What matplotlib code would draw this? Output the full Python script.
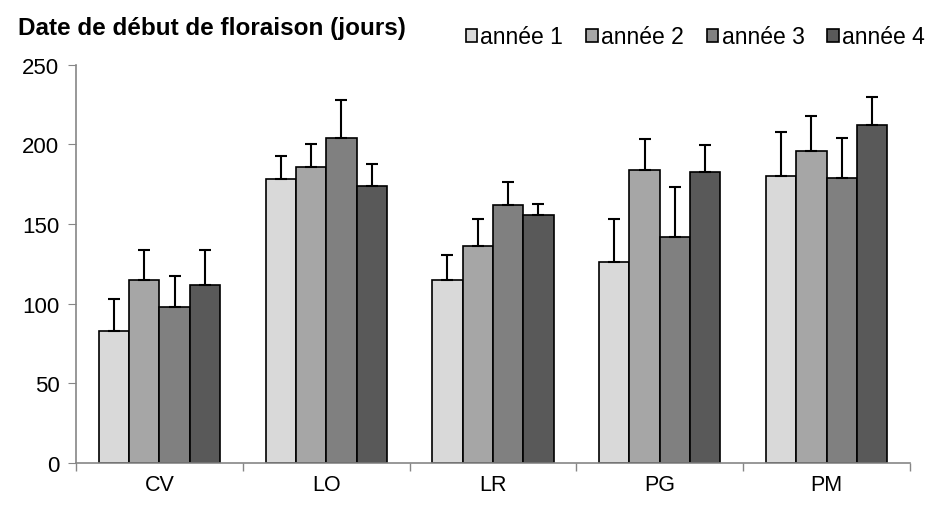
import matplotlib.pyplot as plt
import numpy as np

plt.rcParams['font.family'] = ['Liberation Sans', 'DejaVu Sans']

sites = ["CV", "LO", "LR", "PG", "PM"]
years = ["année 1", "année 2", "année 3", "année 4"]
means = [
    [83, 178, 115, 126, 180],
    [115, 186, 136, 184, 196],
    [98, 204, 162, 142, 179],
    [112, 174, 156, 183, 212],
]
errors = [
    [20, 14.5, 15.5, 27, 28],
    [18.5, 14.5, 17, 19.5, 22],
    [19.5, 24, 14.5, 31, 25],
    [21.5, 13.5, 6.5, 16.5, 18],
]
colors = ["#D9D9D9", "#A6A6A6", "#808080", "#595959"]

fig = plt.figure(figsize=(9.39, 5.06), dpi=100)
ax = fig.add_axes([0.081, 0.083, 0.888, 0.787])

x = np.arange(len(sites))
w = 1 / 5.5
for i in range(4):
    pos = x + (i - 1.5) * w
    ax.bar(pos, means[i], w, color=colors[i], edgecolor="black",
           linewidth=1.2, label=years[i], zorder=2)
    ax.errorbar(pos, means[i], yerr=[np.zeros(5), errors[i]], fmt="none",
                ecolor="black", elinewidth=1.5, capsize=4, capthick=1.5,
                zorder=3)

ax.set_xlim(-0.5, 4.5)
ax.set_ylim(0, 250)
ax.set_yticks(range(0, 251, 50))
ax.set_xticks(x)
ax.set_xticklabels(sites)
ax.set_xticks(np.arange(-0.5, 5, 1), minor=True)
ax.tick_params(axis="x", which="major", length=0, labelsize=15.5, pad=8)
ax.tick_params(axis="x", which="minor", length=6, color="#868686", width=1)
ax.tick_params(axis="y", length=6, color="#868686", labelsize=16, pad=6)
for s in ["top", "right"]:
    ax.spines[s].set_visible(False)
for s in ["left", "bottom"]:
    ax.spines[s].set_color("#868686")
    ax.spines[s].set_linewidth(1.2)

fig.text(0.019, 0.943, "Date de début de floraison (jours)", fontsize=17.5,
         fontweight="bold", va="center", ha="left")

fig.legend(loc="center right", bbox_to_anchor=(0.995, 0.925), ncol=4,
           frameon=False, fontsize=16.5, handlelength=0.5, handleheight=0.5,
           handletextpad=0.15, columnspacing=1.0, borderaxespad=0)

fig.savefig("out.png", dpi=100)
